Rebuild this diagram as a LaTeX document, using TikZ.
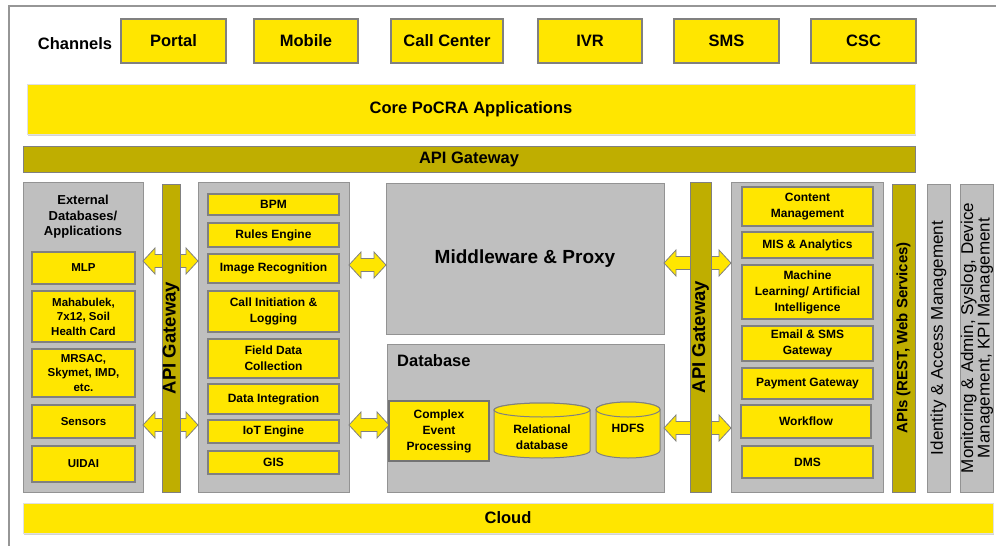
\documentclass[tikz,border=0pt]{standalone}
\usepackage{fontspec}
\setmainfont{Liberation Sans}
\usetikzlibrary{shadows}
\definecolor{cyel}{RGB}{255,230,0}
\definecolor{colive}{RGB}{191,174,0}
\definecolor{cgfill}{RGB}{191,191,191}
\definecolor{cgline}{RGB}{128,128,128}
\definecolor{cframe}{RGB}{150,150,150}
% box by corners: [style]{name}{x1}{y1}{x2}{y2}{text}
\newcommand\rbox[7][]{\node[#1, minimum width={#5-#3}, minimum height={#6-#4}] (#2) at ({(#3+#5)/2},{(#4+#6)/2}) {#7};}
% vertical bar with rotated text
\newcommand\vbar[7][]{\node[#1, rotate=90, minimum width={#6-#4}, minimum height={#5-#3}] (#2) at ({(#3+#5)/2},{(#4+#6)/2}) {#7};}
% double block arrow: {name}{x1}{x2}{y}
\newcommand\dbl[4]{\draw[dblarrow] (#2,#4) coordinate (#1) -- ++(12,-13) -- ++(0,6.5) -- ({#3-12},{#4-6.5}) -- ++(0,-6.5) -- (#3,#4) -- ++(-12,13) -- ++(0,-6.5) -- ({#2+12},{#4+6.5}) -- ++(0,6.5) -- cycle;}
% cylinder: {x1}{x2}{ytop}{ybottom}{ry}   (y axis points down)
\newcommand\cylshape[5]{%
  \filldraw[cylst] (#1,{#3+#5}) -- (#1,{#4-#5}) arc[start angle=180, end angle=0, x radius={(#2-#1)/2}, y radius=#5]
    -- (#2,{#3+#5}) arc[start angle=0, end angle=-180, x radius={(#2-#1)/2}, y radius=#5] -- cycle;
  \filldraw[cylst] ({(#1+#2)/2},{#3+#5}) ellipse[x radius={(#2-#1)/2}, y radius=#5];}
\begin{document}
\begin{tikzpicture}[x=1pt,y=-1pt,
  ybx/.style={draw=cgline, line width=1.2pt, fill=cyel, inner sep=0pt, align=center,
    font=\bfseries\fontsize{12}{16}\selectfont},
  ybxs/.style={ybx, font=\bfseries\fontsize{11.5}{14.5}\selectfont},
  chan/.style={ybx, font=\bfseries\fontsize{16.5}{18}\selectfont},
  gbx/.style={draw=cgline!85, line width=1pt, fill=cgfill, inner sep=0pt, align=center},
  obar/.style={draw=cgline, line width=0.8pt, fill=colive, inner sep=0pt, align=center},
  wide/.style={fill=cyel, draw=black!12, line width=0.6pt, inner sep=0pt,
    drop shadow={opacity=0.35, shadow xshift=1pt, shadow yshift=-2pt},
    font=\bfseries\fontsize{16.5}{18}\selectfont},
  dblarrow/.style={draw=cgline, fill=cyel, line width=0.8pt, line join=miter},
  cylst/.style={draw=cgline, fill=cyel, line width=1pt},
  cyltext/.style={inner sep=0pt, align=center, font=\bfseries\fontsize{12}{16}\selectfont}
]
\useasboundingbox (0,0) rectangle (996,546);
% outer frame
\coordinate (ftl) at (9,6);
\coordinate (ftr) at (996,6);
\coordinate (fbl) at (9,546);
\draw[cframe, line width=1.2pt] (ftr) -- (ftl) -- (fbl);

% channels
\node[font=\bfseries\fontsize{16.5}{18}\selectfont, inner sep=0pt] (chlabel) at (75,44) {Channels};
\rbox[chan]{portal}{121}{19}{226}{63}{Portal}
\rbox[chan]{mobile}{254}{19}{358}{63}{Mobile}
\rbox[chan]{callc}{391}{19}{503}{63}{Call Center}
\rbox[chan]{ivr}{538}{19}{642}{63}{IVR}
\rbox[chan]{sms}{674}{19}{779}{63}{SMS}
\rbox[chan]{csc}{811}{19}{916}{63}{CSC}

% core & API gateway
\rbox[wide]{core}{27}{84}{915}{134}{Core PoCRA Applications}
\rbox[obar, font=\bfseries\fontsize{16.5}{18}\selectfont]{apigw}{23}{146}{915}{172}{API Gateway}

% containers
\rbox[gbx]{ext}{23}{182}{143}{492}{}
\node[font=\bfseries\fontsize{13}{15.5}\selectfont, align=center, inner sep=0pt] (exttitle) at (83,217) {External\\Databases/\\Applications};
\rbox[gbx]{mid}{198}{182}{349}{492}{}
\rbox[gbx, font=\bfseries\fontsize{19}{22}\selectfont]{mw}{386}{183}{664}{334}{Middleware \& Proxy}
\rbox[gbx]{db}{387}{344}{664}{492}{}
\node[font=\bfseries\fontsize{16.5}{18}\selectfont, anchor=west, inner sep=0pt] (dblabel) at (397,361) {Database};
\rbox[gbx]{rbox}{731}{182}{883}{492}{}

% arrows (behind the vertical gateways)
\dbl{a1}{143}{198}{261}
\dbl{a2}{143}{198}{425}
\dbl{a3}{349}{386}{265}
\dbl{a4}{349}{389}{425}
\dbl{a5}{664}{731}{263}
\dbl{a6}{664}{731}{428}

% vertical gateways
\vbar[obar, font=\bfseries\fontsize{18.5}{20}\selectfont]{lgw}{162}{184}{180}{492}{API Gateway}
\vbar[obar, font=\bfseries\fontsize{18.5}{20}\selectfont]{rgw}{690}{182}{711}{492}{API Gateway}
\vbar[obar, font=\bfseries\fontsize{15}{17}\selectfont]{apis}{892}{184}{915}{492}{APIs (REST, Web Services)}
\vbar[gbx, font=\fontsize{17}{16}\selectfont]{iam}{927}{184}{950}{492}{Identity \& Access Management}
\vbar[gbx, font=\fontsize{17}{16.5}\selectfont]{mon}{961}{184}{993}{492}{Monitoring \& Admin, Syslog, Device\\Management, KPI Management}

% external items
\rbox[ybxs]{mlp}{32}{252}{135}{284}{MLP}
\rbox[ybxs]{maha}{32}{291}{135}{342}{Mahabulek,\\7x12, Soil\\Health Card}
\rbox[ybxs]{mrsac}{32}{349}{135}{397}{MRSAC,\\Skymet, IMD,\\etc.}
\rbox[ybxs]{sens}{32}{405}{135}{438}{Sensors}
\rbox[ybxs]{uidai}{32}{446}{135}{482}{UIDAI}

% middle items
\rbox[ybx]{bpm}{208}{194}{339}{215}{BPM}
\rbox[ybx]{rules}{208}{223}{339}{247}{Rules Engine}
\rbox[ybx]{imgr}{208}{254}{339}{283}{Image Recognition}
\rbox[ybx]{call}{208}{291}{339}{332}{Call Initiation \&\\Logging}
\rbox[ybx]{field}{208}{339}{339}{378}{Field Data\\Collection}
\rbox[ybx]{dint}{208}{384}{339}{414}{Data Integration}
\rbox[ybx]{iot}{208}{420}{339}{443}{IoT Engine}
\rbox[ybx]{gis}{208}{451}{339}{474}{GIS}

% database items
\rbox[ybx, line width=1.6pt, draw=cgline!90!black]{cep}{389}{401}{489}{461}{Complex\\Event\\Processing}
\cylshape{494}{590}{403}{458}{7}
\node[cyltext] (rdb) at (542,437) {Relational\\database};
\cylshape{596}{660}{402}{458}{7.5}
\node[cyltext] (hdfs) at (628,428) {HDFS};

% right items
\rbox[ybx]{cms}{742}{187}{873}{226}{Content\\Management}
\rbox[ybx]{mis}{742}{232}{873}{258}{MIS \& Analytics}
\rbox[ybx]{ml}{742}{265}{873}{319}{Machine\\Learning/ Artificial\\Intelligence}
\rbox[ybx]{email}{742}{326}{873}{361}{Email \& SMS\\Gateway}
\rbox[ybx]{pay}{742}{368}{873}{399}{Payment Gateway}
\rbox[ybx]{wf}{741}{405}{871}{438}{Workflow}
\rbox[ybx]{dms}{742}{446}{873}{478}{DMS}

% cloud
\rbox[wide]{cloud}{23}{503}{993}{533}{Cloud}
\end{tikzpicture}
\end{document}
